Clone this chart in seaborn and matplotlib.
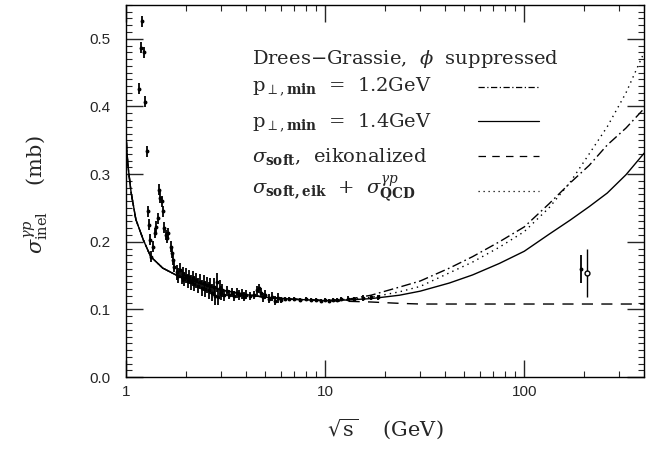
import matplotlib
matplotlib.use("Agg")
import matplotlib.pyplot as plt
from matplotlib.lines import Line2D
from matplotlib.ticker import MultipleLocator, LogLocator, FixedLocator, FixedFormatter, NullFormatter, FormatStrFormatter
import numpy as np
import pandas as pd
import seaborn as sns

### Curvas teóricas
x_baixo = [1.0, 1.02, 1.06, 1.12, 1.22, 1.33, 1.53, 1.78, 2.0, 2.5, 3.0, 4.0, 5.0, 7.0, 10.0]
y_baixo = [0.355, 0.315, 0.273, 0.233, 0.203, 0.178, 0.161, 0.151, 0.146, 0.136, 0.129, 0.122, 0.118, 0.115, 0.113]

x_alto = [13, 17, 23.6, 30, 42, 55, 75, 100, 133, 170, 212, 261, 324, 400]
y_pmin12 = [0.115, 0.121, 0.133, 0.142, 0.161, 0.178, 0.200, 0.222, 0.256, 0.287, 0.313, 0.343, 0.368, 0.397]
y_pmin14 = [0.114, 0.116, 0.121, 0.127, 0.139, 0.151, 0.168, 0.186, 0.211, 0.232, 0.252, 0.272, 0.299, 0.331]
y_soft   = [0.112, 0.111, 0.109, 0.108, 0.108, 0.108, 0.108, 0.108, 0.108, 0.108, 0.108, 0.108, 0.108, 0.108]
y_qcd    = [0.114, 0.118, 0.126, 0.134, 0.154, 0.170, 0.192, 0.215, 0.250, 0.288, 0.330, 0.370, 0.420, 0.480]

### Dados experimentais
x_dados = [1.20, 1.19, 1.23, 1.16, 1.25, 1.27,
           1.46, 1.48, 1.51, 1.29, 1.30, 1.53, 1.45, 1.41, 1.39, 1.32, 1.37, 1.33,
           1.55, 1.58, 1.61, 1.62, 1.68, 1.71, 1.73, 1.75,
           1.80, 1.83, 1.86, 1.90, 1.93, 1.96, 2.00, 2.04, 2.08, 2.12, 2.16, 2.20,
           2.25, 2.30, 2.35, 2.40, 2.45, 2.50, 2.55, 2.60, 2.65, 2.70, 2.75, 2.80,
           2.85, 2.90, 2.95, 3.00, 3.05, 3.10, 3.20, 3.30, 3.40, 3.50, 3.60, 3.70,
           3.80, 3.90, 4.00, 4.20, 4.40, 4.55, 4.65, 4.75, 4.90, 5.00, 5.20, 5.40,
           5.60, 5.80, 6.00, 6.30, 6.60, 7.0, 7.5, 8.0, 8.5, 9.0, 9.5, 10.0, 10.5,
           11.0, 11.5, 12.0, 13.0, 14.0, 15.5, 17.0, 18.5,
           193, 207]
y_dados = [0.526, 0.487, 0.480, 0.426, 0.407, 0.334,
           0.277, 0.265, 0.260, 0.245, 0.225, 0.245, 0.235, 0.222, 0.213, 0.203, 0.193, 0.178,
           0.221, 0.210, 0.206, 0.213, 0.193, 0.184, 0.173, 0.163,
           0.155, 0.150, 0.158, 0.148, 0.152, 0.145, 0.150, 0.142, 0.148, 0.140, 0.146, 0.138,
           0.143, 0.135, 0.141, 0.132, 0.139, 0.130, 0.136, 0.128, 0.135, 0.125, 0.133, 0.120,
           0.140, 0.118, 0.132, 0.124, 0.128, 0.121, 0.127, 0.122, 0.125, 0.120, 0.124, 0.121,
           0.123, 0.119, 0.122, 0.120, 0.121, 0.128, 0.131, 0.125, 0.118, 0.122, 0.116, 0.119,
           0.113, 0.117, 0.114, 0.116, 0.115, 0.115, 0.114, 0.115, 0.114, 0.114, 0.113, 0.114, 0.113,
           0.114, 0.114, 0.115, 0.116, 0.115, 0.117, 0.118, 0.118,
           0.160, 0.154]
erro_dados = [0.008, 0.008, 0.008, 0.008, 0.008, 0.008,
              0.008, 0.008, 0.008, 0.008, 0.008, 0.008, 0.008, 0.008, 0.008, 0.008, 0.008, 0.008,
              0.008, 0.008, 0.008, 0.008, 0.008, 0.008, 0.008, 0.008,
              0.011, 0.011, 0.011, 0.011, 0.011, 0.011, 0.011, 0.011, 0.011, 0.011, 0.011, 0.011,
              0.011, 0.011, 0.011, 0.012, 0.012, 0.012, 0.012, 0.012, 0.012, 0.013, 0.013, 0.014,
              0.014, 0.012, 0.012, 0.010, 0.009, 0.008, 0.007, 0.007, 0.007, 0.007, 0.007, 0.007,
              0.007, 0.007, 0.006, 0.006, 0.006, 0.007, 0.007, 0.007, 0.007, 0.007, 0.007, 0.007,
              0.007, 0.007, 0.004, 0.003, 0.003, 0.003, 0.003, 0.003, 0.003, 0.003, 0.003, 0.003, 0.003,
              0.003, 0.003, 0.003, 0.004, 0.004, 0.004, 0.004, 0.004,
              0.021, 0.036]

titulo_legenda = "Drees\u2212Grassie,  $\\phi$  suppressed"
legenda = ["p$_{\\perp,\\mathbf{min}}$  =  1.2GeV",
           "p$_{\\perp,\\mathbf{min}}$  =  1.4GeV",
           "$\\sigma_{\\mathbf{soft}}$,  eikonalized",
           "$\\sigma_{\\mathbf{soft,eik}}$  +  $\\sigma^{\\gamma p}_{\\mathbf{QCD}}$"]
y_legenda = [0.856, 0.780, 0.683, 0.594, 0.508]

sns.set_theme(style="ticks")
plt.rcParams["font.family"] = ["DejaVu Serif"]
plt.rcParams["mathtext.fontset"] = "dejavuserif"

fig = plt.figure(figsize=(6.6, 4.5), dpi=100)
ax = fig.add_axes([0.191, 0.162, 0.785, 0.827])

estilos = [(7, 2.5, 1.2, 2.5), "", (8, 6), (1, 3)]
curvas = [y_pmin12, y_pmin14, y_soft, y_qcd]
for yc, est in zip(curvas, estilos):
    df = pd.DataFrame({"x": x_baixo + x_alto, "y": y_baixo + yc})
    linha = sns.lineplot(data=df, x="x", y="y", ax=ax, color="black", lw=1.0, sort=False)
    if est != "":
        linha.lines[-1].set_dashes(est)

ax.errorbar(x_dados[:-1], y_dados[:-1], yerr=erro_dados[:-1], fmt="o", ms=1.8,
            color="black", ecolor="black", elinewidth=1.3, capsize=0)
ax.errorbar(x_dados[-1:], y_dados[-1:], yerr=erro_dados[-1:], fmt="o", ms=3.5,
            mfc="white", mec="black", color="black", elinewidth=1.0, capsize=0)

ax.set_xscale("log")
ax.set_xlim(1, 400)
ax.set_ylim(0, 0.55)
ax.xaxis.set_major_locator(FixedLocator([1, 10, 100]))
ax.xaxis.set_major_formatter(FixedFormatter(["1", "10", "100"]))
ax.xaxis.set_minor_locator(LogLocator(base=10, subs=np.arange(2, 10)))
ax.xaxis.set_minor_formatter(NullFormatter())
ax.yaxis.set_major_locator(MultipleLocator(0.1))
ax.yaxis.set_minor_locator(MultipleLocator(0.01))
ax.yaxis.set_major_formatter(FormatStrFormatter("%.1f"))

ax.tick_params(which="major", direction="in", length=12, width=1.0, top=True, right=True)
ax.tick_params(which="minor", direction="in", length=4.5, width=0.8, top=True, right=True)
ax.tick_params(axis="y", which="major", pad=11)
ax.tick_params(axis="x", which="major", pad=6)
for lab in ax.get_xticklabels() + ax.get_yticklabels():
    lab.set_fontfamily("Liberation Sans")
    lab.set_fontsize(11)
for s in ax.spines.values():
    s.set_linewidth(1.0)
    s.set_color("black")

ax.set_xlabel("$\\sqrt{\\mathrm{s}}$    (GeV)", fontsize=15)
ax.set_ylabel("$\\sigma^{\\gamma p}_{\\mathrm{inel}}$    (mb)", fontsize=15)
ax.xaxis.set_label_coords(0.5, -0.105)
ax.yaxis.set_label_coords(-0.145, 0.49)

### Legenda: textos à esquerda, amostras de linha à direita
for texto, yy in zip([titulo_legenda] + legenda, y_legenda):
    ax.text(0.243, yy, texto, transform=ax.transAxes, fontsize=14, ha="left", va="center")

alcas = [Line2D([], [], color="black", lw=0.9, dashes=(5, 2, 1, 2)),
         Line2D([], [], color="black", lw=0.9),
         Line2D([], [], color="black", lw=0.9, dashes=(6, 5)),
         Line2D([], [], color="black", lw=0.9, dashes=(1, 3))]
leg = ax.legend(alcas, [" "] * 4, loc="upper left", bbox_to_anchor=(0.680, 0.800),
                frameon=False, fontsize=14, handlelength=3.1, handletextpad=0,
                labelspacing=0.86, borderpad=0, borderaxespad=0)

plt.savefig("out.png", dpi=100)
